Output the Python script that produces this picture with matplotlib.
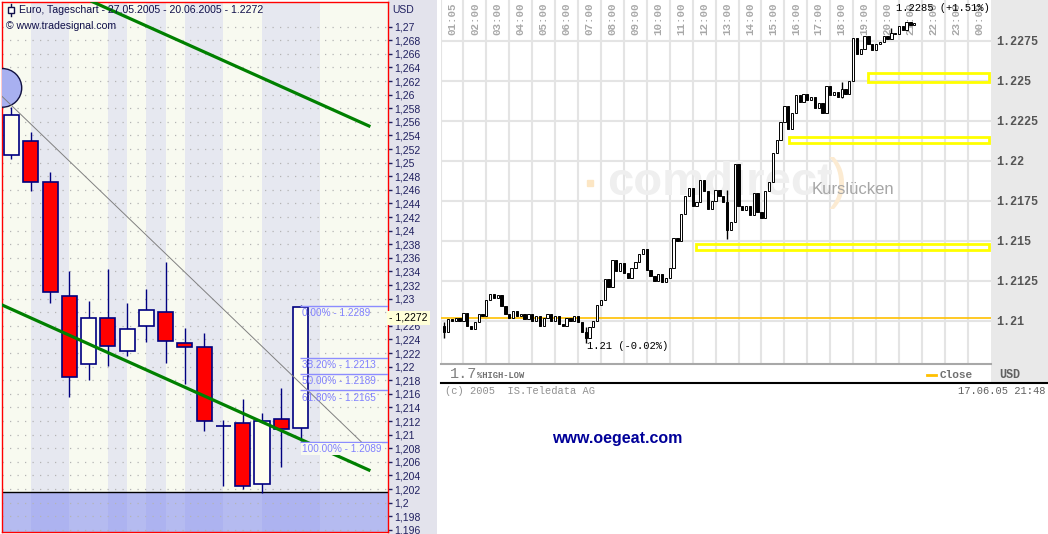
import numpy as np
import matplotlib.pyplot as plt
import matplotlib.transforms as mtransforms
from matplotlib.patches import Rectangle, Ellipse
from matplotlib.lines import Line2D

plt.rcParams['font.family'] = ['Liberation Sans', 'DejaVu Sans']
MONO = ['Liberation Mono', 'DejaVu Sans Mono']

# ---- left chart: daily candles 27.05. - 17.06.2005 ----
d_open  = [1.2511, 1.2532, 1.2472, 1.2304, 1.2204, 1.2272, 1.2223, 1.2260,
           1.2280, 1.2235, 1.2229, 1.2113, 1.2117, 1.2027, 1.2123, 1.2110]
d_high  = [1.2582, 1.2545, 1.2486, 1.2341, 1.2297, 1.2344, 1.2294, 1.2314,
           1.2354, 1.2257, 1.2250, 1.2122, 1.2153, 1.2132, 1.2169, 1.2290]
d_low   = [1.2505, 1.2459, 1.2293, 1.2156, 1.2180, 1.2201, 1.2215, 1.2236,
           1.2205, 1.2174, 1.2105, 1.2025, 1.2020, 1.2014, 1.2053, 1.2090]
d_close = [1.2570, 1.2472, 1.2310, 1.2185, 1.2272, 1.2231, 1.2256, 1.2283,
           1.2238, 1.2229, 1.2120, 1.2113, 1.2025, 1.2120, 1.2108, 1.2288]

week_bands = [(1, 3), (5, 6), (7, 8), (9, 11), (13, 16)]

fib_pct = ['0.00%', '38.20%', '50.00%', '61.80%', '100.00%']
fib_val = [1.2289, 1.2213, 1.2189, 1.2165, 1.2089]

trend_upper = ([4.18, 18.55], [1.2737, 1.2554])
trend_lower = ([-0.51, 18.55], [1.2291, 1.2048])
trend_thin = ([-0.51, 18.17], [1.2598, 1.2089])
last_price = 1.2272

# ---- right chart: intraday 17.06.05, 10-minute bars from 01:10 ----
first_open = 1.2097
closes = [
    1.2093, 1.2101, 1.2100, 1.2102, 1.2100, 1.2105,   # 01
    1.2097, 1.2095, 1.2099, 1.2104, 1.2103, 1.2113,   # 02
    1.2117, 1.2114, 1.2116, 1.2109, 1.2104, 1.2102,   # 03
    1.2106, 1.2103, 1.2104, 1.2101, 1.2104, 1.2100,   # 04
    1.2103, 1.2097, 1.2102, 1.2104, 1.2100, 1.2103,   # 05
    1.2098, 1.2097, 1.2102, 1.2100, 1.2103, 1.2099,   # 06
    1.2093, 1.2089, 1.2096, 1.2100, 1.2110, 1.2113,   # 07
    1.2126, 1.2121, 1.2138, 1.2131, 1.2136, 1.2130,   # 08
    1.2127, 1.2133, 1.2137, 1.2142, 1.2145, 1.2132,   # 09
    1.2128, 1.2125, 1.2129, 1.2124, 1.2127, 1.2133,   # 10
    1.2152, 1.2150, 1.2167, 1.2178, 1.2183, 1.2172,   # 11
    1.2174, 1.2188, 1.2181, 1.2170, 1.2175, 1.2182,   # 12
    1.2178, 1.2174, 1.2157, 1.2162, 1.2198, 1.2172,   # 13
    1.2169, 1.2172, 1.2166, 1.2180, 1.2168, 1.2164,   # 14
    1.2181, 1.2187, 1.2205, 1.2213, 1.2224, 1.2234,   # 15
    1.2220, 1.2230, 1.2241, 1.2237, 1.2242, 1.2238,   # 16
    1.2240, 1.2233, 1.2236, 1.2230, 1.2247, 1.2241,   # 17
    1.2243, 1.2240, 1.2245, 1.2242, 1.2250, 1.2277,   # 18
    1.2267, 1.2270, 1.2278, 1.2273, 1.2269, 1.2273,   # 19
    1.2274, 1.2278, 1.2276, 1.2280, 1.2279, 1.2284,   # 20
    1.2282, 1.2287, 1.2285, 1.2286,                   # 21
]
spike_idx = [0, 37, 74, 104, 117]
spike_hi = [1.2099, 1.2096, 1.2182, 1.2249, 1.2283]
spike_lo = [1.2089, 1.2086, 1.2151, 1.2239, 1.2276]

gap_start = [19.66, 16.21, 12.13]
gap_lo = [1.2249, 1.2211, 1.2144]
gap_hi = [1.2255, 1.2215, 1.2148]
close_prev = 1.2102
price_ticks = [1.21, 1.2125, 1.215, 1.2175, 1.22, 1.2225, 1.225, 1.2275]
price_labels = ['1.21', '1.2125', '1.215', '1.2175', '1.22', '1.2225', '1.225', '1.2275']

W, H = 1048, 534
fig = plt.figure(figsize=(W / 100, H / 100), dpi=100, facecolor='white')


def fx(px):
    return px / W


def fy(py):
    return 1 - py / H


# background strips
fig.add_artist(Rectangle((fx(388), 0), fx(437) - fx(388), 1, transform=fig.transFigure,
                         fc='#E3E3EC', ec='none', zorder=-1))
fig.add_artist(Rectangle((fx(991), fy(383)), 1 - fx(991), fy(0) - fy(383), transform=fig.transFigure,
                         fc='#E9E9E9', ec='none', zorder=-1))

# ================= left panel =================
ax1 = fig.add_axes([fx(2), fy(532), fx(388) - fx(2), fy(2) - fy(532)])
ax1.set_facecolor('#F8FAF0')
ax1.set_xlim(-0.493, 19.54)
ax1.set_ylim(1.19569, 1.27363)

for a, b in week_bands:
    ax1.axvspan(a, b, color='#E6E8F0', lw=0, zorder=0.1)

ax1.axhspan(1.19, 1.2015, color='#7E88F0', alpha=0.55, lw=0, zorder=0.2)
ax1.axhline(1.2015, color='black', lw=1, zorder=2)

ticks = np.round(np.arange(1.196, 1.2701, 0.002), 3)
ax1.set_yticks(ticks)
# the 1,228 label sits under the last-price box
ax1.set_yticklabels(['' if abs(t - 1.228) < 1e-6 else
                     ('%.3f' % t).rstrip('0').rstrip('.').replace('.', ',') for t in ticks])
ax1.yaxis.tick_right()
ax1.tick_params(axis='y', direction='out', length=3, width=1, color='#202060',
                pad=1.5, labelsize=7.5, labelcolor='#202060')
ax1.set_xticks([])
ax1.yaxis.grid(True, color='#B4B4B4', lw=0.9, linestyle=(0, (1, 5)), zorder=0.5)
ax1.set_axisbelow(True)
for s in ax1.spines.values():
    s.set_color('red')
    s.set_linewidth(1)

idx = np.arange(len(d_open))
up = [c >= o for o, c in zip(d_open, d_close)]
ax1.vlines(idx, d_low, d_high, color='#000080', lw=1, zorder=3)
ax1.bar(idx, np.array(d_close) - np.array(d_open), bottom=d_open, width=0.78,
        color=['#FFFFF0' if u else '#FF0000' for u in up], edgecolor='#000080', lw=1.2, zorder=3.2)

ax1.add_patch(Ellipse((-0.47, 1.2610), 2.0, 0.00568, fc='#A8B0F0', ec='#101040', lw=1, zorder=3))

ax1.plot(*trend_thin, color='#808080', lw=0.7, zorder=3.5)
ax1.plot(*trend_upper, color='#008000', lw=2.3, zorder=4)
ax1.plot(*trend_lower, color='#008000', lw=2.3, zorder=4)

for p, v in zip(fib_pct, fib_val):
    ax1.hlines(v, 14.97, 19.54, color='#8C8CFF', lw=1, zorder=4.5)
    t = ax1.annotate('%s - %.4f' % (p, v), xy=(15.06, v), xytext=(0, -1.5), textcoords='offset points',
                     ha='left', va='top', fontsize=7.2, color='#8080FF', zorder=5)
    if p == '100.00%':
        t.set_bbox(dict(boxstyle='square,pad=0.1', fc='#F8FAF0', ec='none'))

ax1.annotate('- ' + ('%.4f' % last_price).replace('.', ','), xy=(1, last_price),
             xycoords=('axes fraction', 'data'), xytext=(1, 0), textcoords='offset points',
             ha='left', va='center', fontsize=7.5, color='black', zorder=10, annotation_clip=False,
             bbox=dict(boxstyle='square,pad=0.2', fc='#FFFFD8', ec='none'))

fig.text(fx(392), fy(10), 'USD', fontsize=7.5, color='#202060', va='center', ha='left')
fig.text(fx(19), fy(10), 'Euro, Tageschart - 27.05.2005 - 20.06.2005 - 1.2272',
         fontsize=7.6, color='#10104A', va='center', ha='left', zorder=6)
fig.text(fx(6), fy(26), '© www.tradesignal.com', fontsize=7.6, color='#10104A',
         va='center', ha='left', zorder=6)
fig.add_artist(Line2D([fx(11), fx(11)], [fy(4), fy(16)], color='#10104A', lw=1, zorder=6))
fig.add_artist(Rectangle((fx(8), fy(13)), 6 / W, 6 / H, transform=fig.transFigure,
                         fc='white', ec='#10104A', lw=1, zorder=6.5))

# ================= right panel =================
ax2 = fig.add_axes([fx(440.5), fy(364), fx(990.7) - fx(440.5), fy(0) - fy(364)])
ax2.set_facecolor('white')
ax2.set_xlim(1, 25)
ax2.set_ylim(1.207294, 1.230044)
ax2.set_xticks(np.arange(1, 25))
ax2.set_yticks(price_ticks)
ax2.set_yticklabels(price_labels, family=MONO, fontweight='bold', fontsize=8.5, color='#555555')
ax2.yaxis.tick_right()
ax2.tick_params(axis='both', length=0)
ax2.tick_params(axis='y', pad=4)
ax2.tick_params(axis='x', labelbottom=False)
ax2.grid(True, color='#E4E4E4', lw=1.5, zorder=0)
ax2.set_axisbelow(True)
for k in ['top', 'left', 'right']:
    ax2.spines[k].set_visible(False)
ax2.spines['bottom'].set_color('#A8A8A8')
ax2.spines['bottom'].set_linewidth(1.5)

xmix = mtransforms.blended_transform_factory(ax2.transData, ax2.transAxes)
for h in range(1, 25):
    lab = '01:05' if h == 1 else '%02d:00' % (h % 24)
    ax2.text(h + 0.5, 0.992, lab, transform=xmix, rotation=90, ha='center', va='top',
             family=MONO, fontweight='bold', fontsize=7.8, color='#A8A8A8', zorder=1)

# watermark
ax2.text(13.2, 1.2186, 'comdirect', ha='center', va='center', fontsize=34, fontweight='bold',
         color='#EFEFEF', zorder=0.8)
ax2.plot([7.5], [1.2186], marker='s', ms=5, color='#FCE6C4', zorder=0.8)
ax2.text(18.35, 1.2186, ')', ha='center', va='center', fontsize=40, color='#FCEBD2', zorder=0.8)
ax2.text(17.2, 1.21817, 'Kurslücken', ha='left', va='center', fontsize=12, color='#A6A6A6', zorder=0.9)

ax2.axhline(close_prev, color='#FFC000', lw=1.2, zorder=1.5)
for x0, lo, hi in zip(gap_start, gap_lo, gap_hi):
    ax2.add_patch(Rectangle((x0, lo), 24.93 - x0, hi - lo, fill=False, ec='#FFFF00', lw=2,
                            zorder=2, clip_on=False))

t_bar = 1 + (np.arange(len(closes)) + 1) / 6
opens = [first_open] + closes[:-1]
body = np.array(closes) - np.array(opens)
ax2.vlines(t_bar[spike_idx], spike_lo, spike_hi, color='black', lw=1, zorder=3)
ax2.bar(t_bar, np.where(np.abs(body) < 0.00004, 0.00004, body), bottom=opens, width=0.1,
        color=['white' if b >= 0 else 'black' for b in body], edgecolor='black', lw=0.7, zorder=3)

fig.text(fx(990), fy(8), '1.2285 (+1.51%)', family=MONO, fontsize=7.6, color='black',
         ha='right', va='center', zorder=6)
fig.text(fx(586.7), fy(346), '1.21 (-0.02%)', family=MONO, fontsize=7.6, color='black',
         ha='left', va='center', zorder=6)

# footer of right panel
fig.text(fx(450), fy(374), '1.7', family=MONO, fontsize=11, color='#808080', ha='left', va='center')
fig.text(fx(477), fy(376), '%HIGH-LOW', family=MONO, fontsize=6.3, fontweight='bold',
         color='#707070', ha='left', va='center')
fig.add_artist(Line2D([fx(927), fx(936)], [fy(375), fy(375)], color='#FFC000', lw=2))
fig.text(fx(940), fy(375), 'Close', family=MONO, fontsize=8, fontweight='bold', color='#707070',
         ha='left', va='center')
fig.text(fx(999), fy(375), 'USD', family=MONO, fontsize=8.5, fontweight='bold', color='#606060',
         ha='left', va='center')
fig.add_artist(Line2D([fx(441), 1], [fy(383), fy(383)], color='black', lw=1.5))
fig.text(fx(445), fy(391), '(c) 2005  IS.Teledata AG', family=MONO, fontsize=7.5, color='#909090',
         ha='left', va='center')
fig.text(fx(1045), fy(391), '17.06.05 21:48', family=MONO, fontsize=7.5, color='#606060',
         ha='right', va='center')

fig.text(fx(617), fy(438), 'www.oegeat.com', fontsize=11.5, fontweight='bold', color='#000099',
         ha='center', va='center')

fig.savefig('out.png', dpi=100, facecolor='white')
